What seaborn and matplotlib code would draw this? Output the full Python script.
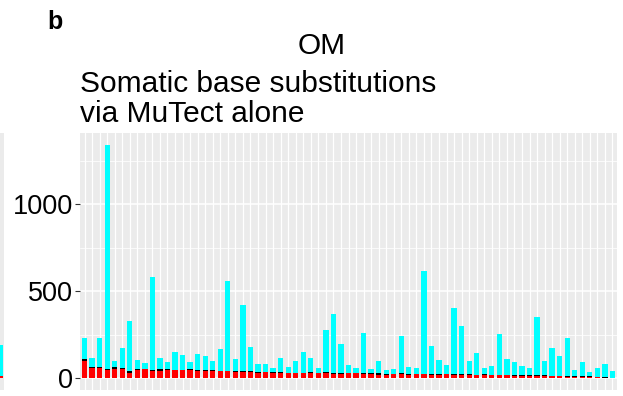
import numpy as np
import pandas as pd
import matplotlib
matplotlib.use("Agg")
import matplotlib.pyplot as plt
import seaborn as sns

# ---------------- data ----------------
samples = [f"S{i:02d}" for i in range(1, 72)]
red_vals = [96, 56, 56, 46, 54, 52, 31, 44, 50, 39, 40, 46, 44, 46, 46, 42, 40, 39, 37, 39,
            35, 33, 33, 31, 33, 31, 29, 29, 27, 27, 29, 29, 27, 25, 25, 27, 27, 25, 25, 19,
            17, 21, 25, 19, 21, 21, 19, 17, 21, 19, 19, 19, 15, 15, 17, 15, 15, 12, 13, 13,
            13, 12, 10, 8, 6, 6, 6, 6, 4, 2, 1]
black_vals = [10, 6, 8, 8, 6, 6, 8, 8, 4, 7, 10, 4, 2, 2, 4, 4, 4, 5, 3, 3,
              4, 6, 4, 4, 2, 2, 4, 2, 4, 4, 4, 2, 6, 4, 4, 2, 2, 2, 2, 12,
              4, 2, 2, 4, 2, 2, 4, 4, 2, 2, 2, 2, 4, 8, 2, 2, 2, 3, 2, 2,
              2, 2, 3, 4, 4, 4, 3, 2, 1, 1, 1]
cyan_vals = [125, 50, 167, 1291, 38, 117, 287, 52, 31, 536, 62, 39, 106, 85, 42, 93, 81, 52, 126, 517,
             71, 381, 140, 46, 46, 25, 81, 33, 67, 119, 83, 27, 241, 341, 168, 46, 27, 233, 25, 69,
             25, 30, 214, 39, 33, 592, 160, 83, 54, 380, 278, 79, 124, 33, 52, 237, 91, 79, 52, 41,
             334, 82, 157, 117, 221, 36, 85, 25, 53, 76, 40]
neighbor_vals = [190]          # partial bar of the neighbouring panel at the left edge
neighbor_red = [8]

series_colors = {"red": "#FF0000", "black": "#000000", "cyan": "#00FFFF"}
yticks = [0, 500, 1000]
ytick_labels = ["0", "500", "1000"]

df = pd.DataFrame({"sample": samples, "red": red_vals,
                   "black": black_vals, "cyan": cyan_vals})
df["lvl_red"] = df["red"]
df["lvl_black"] = df["red"] + df["black"]
df["lvl_cyan"] = df["lvl_black"] + df["cyan"]

# ---------------- style ----------------
sns.set_style("darkgrid", {"axes.facecolor": "#EBEBEB", "grid.color": "white",
                           "text.color": "black", "axes.labelcolor": "black",
                           "ytick.color": "#333333"})
plt.rcParams["font.family"] = ["Liberation Sans", "DejaVu Sans"]

W, H = 623, 396
fig = plt.figure(figsize=(W / 100, H / 100), dpi=100)
fig.patch.set_facecolor("white")

def fx(px):
    return px / W

def fy(py):
    return 1 - py / H

y_lo, y_hi = -67, 1412
ax = fig.add_axes([fx(80), fy(389.5), fx(617) - fx(80), fy(133) - fy(389.5)])

for col, key in [("lvl_cyan", "cyan"), ("lvl_black", "black"), ("lvl_red", "red")]:
    sns.barplot(data=df, x="sample", y=col, order=samples, color=series_colors[key],
                saturation=1, width=0.7, linewidth=0, edgecolor="none", ax=ax, zorder=3)

n = len(samples)
ax.set_xlim(-0.6, n - 0.4)
ax.set_ylim(y_lo, y_hi)
ax.set_yticks(yticks)
ax.set_yticklabels(ytick_labels)
ax.set_yticks([250, 750, 1250], minor=True)
ax.set_xticks(range(n))
ax.set_xticklabels([])
ax.tick_params(axis="x", length=0)
ax.tick_params(axis="y", which="major", length=3.5, width=0.8, color="#333333",
               labelsize=19.5, labelcolor="black", pad=1.5, left=True)
ax.tick_params(axis="y", which="minor", length=0)
ax.grid(True, which="major", axis="y", color="white", linewidth=1.1, zorder=0)
ax.grid(True, which="minor", axis="y", color="white", linewidth=0.55, zorder=0)
ax.grid(True, which="major", axis="x", color="white", linewidth=0.9, zorder=0)
ax.set_axisbelow(True)
ax.set_xlabel("")
ax.set_ylabel("")
for s in ax.spines.values():
    s.set_visible(False)

# sliver of the neighbouring panel at the far left
ax2 = fig.add_axes([0, fy(389.5), fx(3.5), fy(133) - fy(389.5)])
ax2.set_facecolor("#EBEBEB")
sns.barplot(x=["n"], y=neighbor_vals, color=series_colors["cyan"], saturation=1,
            width=0.7, linewidth=0, ax=ax2)
sns.barplot(x=["n"], y=neighbor_red, color=series_colors["red"], saturation=1,
            width=0.7, linewidth=0, ax=ax2)
ax2.set_xlim(-0.35, 0.6)
ax2.set_ylim(y_lo, y_hi)
ax2.set_xticks([]); ax2.set_yticks([])
ax2.set_xlabel(""); ax2.set_ylabel("")
ax2.grid(False)
for s in ax2.spines.values():
    s.set_visible(False)

# ---------------- texts ----------------
fig.text(fx(47), fy(29), "b", fontsize=18, fontweight="bold", ha="left", va="baseline",
         color="black")
fig.text(fx(321.5), fy(54), "OM", fontsize=21.5, ha="center", va="baseline", color="black")
fig.text(fx(80), fy(92), "Somatic base substitutions", fontsize=21.5, ha="left",
         va="baseline", color="black")
fig.text(fx(80), fy(122), "via MuTect alone", fontsize=21.5, ha="left", va="baseline",
         color="black")

fig.savefig("out.png", dpi=100, facecolor="white")
